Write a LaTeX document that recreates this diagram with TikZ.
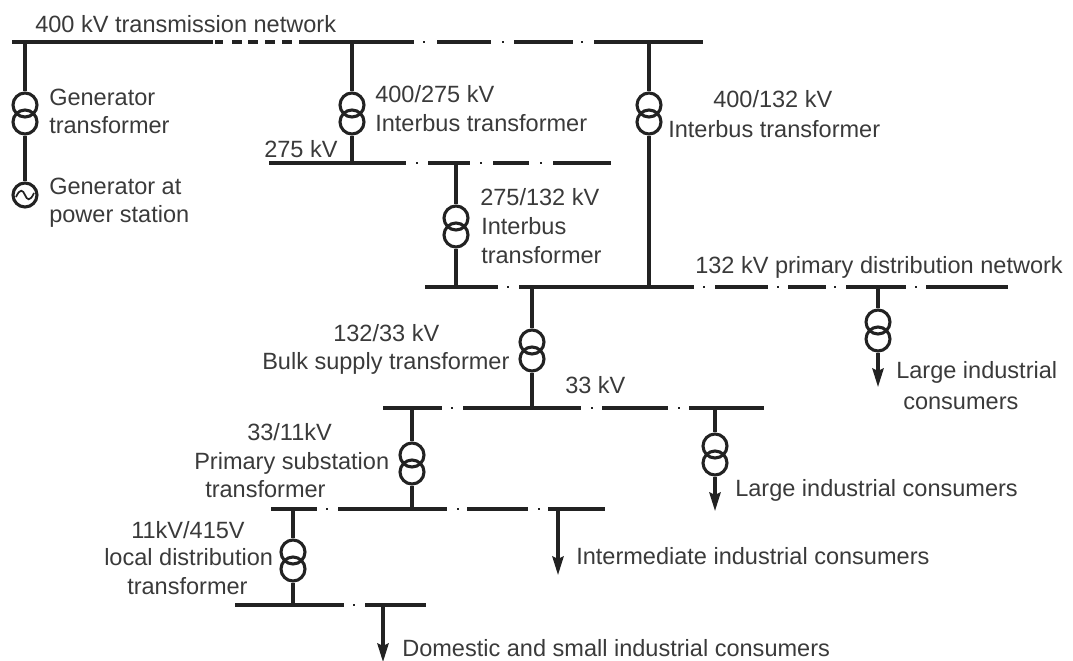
\documentclass[tikz,border=0pt]{standalone}
\usepackage{fontspec}
\setmainfont{Liberation Sans}
\usetikzlibrary{arrows.meta}
\definecolor{ink}{HTML}{222222}
\definecolor{txt}{HTML}{3A3A3A}
\tikzset{
  busbar/.style={draw=ink,line width=2.7pt},
  busdash/.style={draw=ink,line width=3.4pt},
  wire/.style={draw=ink,line width=2.3pt},
  feed/.style={wire,-{Stealth[length=14pt,width=8.5pt,inset=2pt]}},
  coil/.style={circle,draw=ink,line width=2.3pt,minimum size=18pt,inner sep=0pt,fill=none},
  lab/.style={anchor=base west,inner sep=0pt,text=txt,font=\fontsize{17.65}{19}\selectfont},
}
\begin{document}
\begin{tikzpicture}[x=0.75pt,y=-0.75pt]
\useasboundingbox (0,0) rectangle (1073,660);
% busbars: solid segments
\foreach \y/\segs in {
  42/{12/213,307/414,437/491,514/573,594/703},
  163/{269/406,428/470,493/529,553/611},
  287/{425/498,519/694,715/768,788/826,846/906,926/1008},
  408/{383/442,463/581,602/668,689/764},
  509/{271/317,338/447,467/528,548/605},
  605/{235/344,365/426}}{
  \foreach \a/\b in \segs {\draw[busbar] (\a,\y) -- (\b,\y);}
}
% busbars: dots
\foreach \y/\dots in {
  42/{424,503,582},
  163/{417,481,541},
  287/{508,704,778,835,916},
  408/{452,592,679},
  509/{327,458,539},
  605/{354}}{
  \foreach \a in \dots {\draw[ink,line width=2pt] (\a-1,\y) -- (\a+1,\y);}
}
% dashed section of the 400 kV bus
\foreach \a/\b in {215/223,232/242,248/258,265/275,282/292,299/307}{\draw[busdash] (\a,42) -- (\b,42);}
% tap points
\foreach \n/\x/\y in {ga/25/42,aa/352/42,ab/352/163,ba/649/42,bb/649/287,ca/456/163,cb/456/287,
  da/532/287,db/532/408,ea/412/408,eb/412/509,fa/293/509,fb/293/605,ga2/878/287,ha/715/408,ja/558/509,ka/383/605}
  {\coordinate (\n) at (\x,\y);}
\coordinate (gatip) at (878,387);
\coordinate (hatip) at (715,511);
\coordinate (jatip) at (558,575);
\coordinate (katip) at (383,662);
% transformers
\foreach \n/\x/\y in {g/25/105,a/352/105,b/649/105,c/456/218,d/532/342,e/412/455,f/293/552,h/878/322,i/715/446}{
  \node[coil] (\n u) at (\x,\y) {};
  \node[coil] (\n l) at (\x,\y+17) {};
}
% generator
\node[coil] (gen) at (25,195) {};
\draw[ink,line width=1.3pt] (16,197) .. controls (20,188) and (23,190) .. (25,195) .. controls (27,200) and (30,202) .. (34,193);
% connectors
\draw[wire] (ga) -- (gu.north);
\draw[wire] (gl.south) -- (gen.north);
\draw[wire] (aa) -- (au.north);
\draw[wire] (al.south) -- (ab);
\draw[wire] (ba) -- (bu.north);
\draw[wire] (bl.south) -- (bb);
\draw[wire] (ca) -- (cu.north);
\draw[wire] (cl.south) -- (cb);
\draw[wire] (da) -- (du.north);
\draw[wire] (dl.south) -- (db);
\draw[wire] (ea) -- (eu.north);
\draw[wire] (el.south) -- (eb);
\draw[wire] (fa) -- (fu.north);
\draw[wire] (fl.south) -- (fb);
\draw[wire] (ga2) -- (hu.north);
\draw[feed] (hl.south) -- (gatip);
\draw[wire] (ha) -- (iu.north);
\draw[feed] (il.south) -- (hatip);
\draw[feed] (ja) -- (jatip);
\draw[feed] (ka) -- (katip);
% labels
\node[lab] (l1) at (35,33) {400 kV transmission network};
\node[lab] (l2) at (49,105) {Generator};
\node[lab] (l3) at (49,133) {transformer};
\node[lab] (l4) at (49,194) {Generator at};
\node[lab] (l5) at (49,222) {power station};
\node[lab] (l6) at (264,157) {275 kV};
\node[lab] (l7) at (375,102) {400/275 kV};
\node[lab] (l8) at (375,131) {Interbus transformer};
\node[lab] (l9) at (713,108) {400/132 kV};
\node[lab] (l10) at (668,137) {Interbus transformer};
\node[lab] (l11) at (480,205) {275/132 kV};
\node[lab] (l12) at (481,234) {Interbus};
\node[lab] (l13) at (481,263) {transformer};
\node[lab] (l14) at (695,273) {132 kV primary distribution network};
\node[lab] (l15) at (896,378) {Large industrial};
\node[lab] (l16) at (903,409) {consumers};
\node[lab] (l17) at (735,496) {Large industrial consumers};
\node[lab] (l18) at (333,341) {132/33 kV};
\node[lab] (l19) at (262,369) {Bulk supply transformer};
\node[lab] (l20) at (565,393) {33 kV};
\node[lab] (l21) at (247,440) {33/11kV};
\node[lab] (l22) at (194,469) {Primary substation};
\node[lab] (l23) at (205,497) {transformer};
\node[lab] (l24) at (131,538) {11kV/415V};
\node[lab] (l25) at (104,565) {local distribution};
\node[lab] (l26) at (127,594) {transformer};
\node[lab] (l27) at (576,564) {Intermediate industrial consumers};
\node[lab] (l28) at (402,656) {Domestic and small industrial consumers};
\end{tikzpicture}
\end{document}
